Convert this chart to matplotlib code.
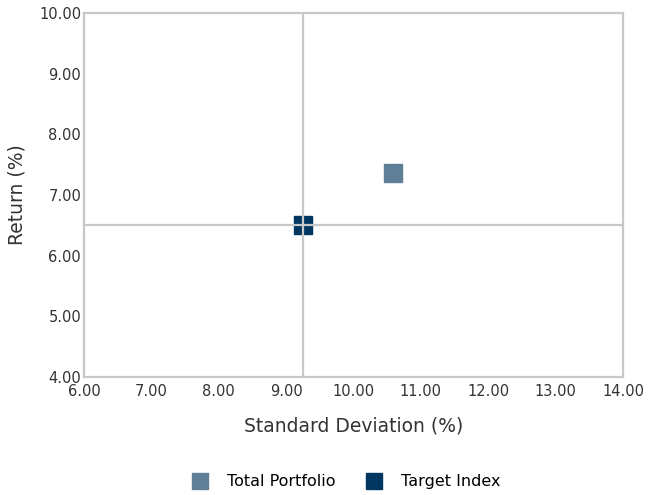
import matplotlib
matplotlib.use("Agg")
import matplotlib.pyplot as plt
from matplotlib.lines import Line2D

plt.rcParams['font.family'] = ['DejaVu Sans']

# donnees
series = ["Total Portfolio", "Target Index"]
std_dev = [10.58, 9.25]
returns = [7.36, 6.51]
colors = ["#5e7f95", "#003660"]

x_ticks = [6, 7, 8, 9, 10, 11, 12, 13, 14]
y_ticks = [4, 5, 6, 7, 8, 9, 10]

fig = plt.figure(figsize=(6.49, 4.95), dpi=100)
ax = fig.add_axes([0.1294, 0.2384, 0.8306, 0.7353])

grey = "#c8c8c8"
# croix centree sur l'indice
ax.axvline(std_dev[1], color=grey, lw=1.6, zorder=3)
ax.axhline(returns[1], color=grey, lw=1.6, zorder=3)

for nom, x, y, c in zip(series, std_dev, returns, colors):
    ax.plot([x], [y], "s", color=c, markersize=13, zorder=2, label=nom)

ax.set_xlim(6, 14)
ax.set_ylim(4, 10)
ax.set_xticks(x_ticks)
ax.set_yticks(y_ticks)
ax.set_xticklabels(["%.2f" % v for v in x_ticks])
ax.set_yticklabels(["%.2f" % v for v in y_ticks])
ax.tick_params(length=0, labelsize=10.5, colors="#333333")
ax.tick_params(axis="x", pad=5)
ax.tick_params(axis="y", pad=2)

for s in ax.spines.values():
    s.set_color(grey)
    s.set_linewidth(1.6)

ax.set_xlabel("Standard Deviation (%)", fontsize=13.5, color="#333333", labelpad=13)
ax.set_ylabel("Return (%)", fontsize=13.5, color="#333333", labelpad=9)

handles = [Line2D([], [], marker="s", ls="", color=c, markersize=12) for c in colors]
fig.legend(handles, series, loc="center", bbox_to_anchor=(0.527, 0.027), ncol=2,
           frameon=False, fontsize=11.5, handletextpad=0.7, columnspacing=1.4)

plt.savefig("out.png")
plt.close()
